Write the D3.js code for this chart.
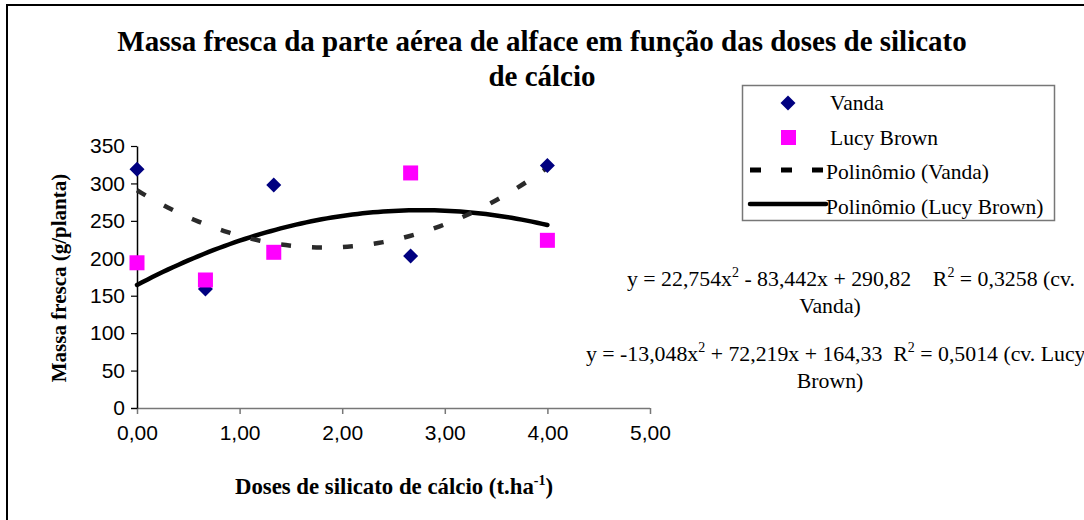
<!DOCTYPE html>
<html><head><meta charset="utf-8">
<script src="https://cdn.jsdelivr.net/npm/d3@7"></script>
<style>body{margin:0;background:#fff;}svg{display:block;} text{white-space:pre;}</style>
</head><body>
<svg id="c" width="1084" height="520"></svg>
<script>
const doses = [0, 0.667, 1.333, 2.667, 4];
const vanda = [319, 159, 298, 203, 324];
const lucy = [194, 171, 208, 314, 224];
const coefVanda = [22.754, -83.442, 290.82];
const coefLucy = [-13.048, 72.219, 164.33];
const xTicks = [0, 1, 2, 3, 4, 5];
const yTicks = [0, 50, 100, 150, 200, 250, 300, 350];

const svg = d3.select("#c");
const x = d3.scaleLinear().domain([0, 5]).range([137, 650]);
const y = d3.scaleLinear().domain([0, 350]).range([408, 146]);
const serif = "'Liberation Serif','Times New Roman',serif";
const sans = "'Liberation Sans',Arial,sans-serif";

svg.append("rect").attr("x", 7).attr("y", 5).attr("width", 1100).attr("height", 540)
  .attr("fill", "none").attr("stroke", "#000").attr("stroke-width", 2);

// title
const t = svg.append("text").attr("text-anchor", "middle").attr("font-family", serif)
  .attr("font-weight", "bold").attr("font-size", 29).attr("fill", "#000");
t.append("tspan").attr("x", 542).attr("y", 51).text("Massa fresca da parte aérea de alface em função das doses de silicato");
t.append("tspan").attr("x", 542).attr("y", 86).text("de cálcio");

// axes
const xa = svg.append("g").attr("transform", "translate(0,408)")
  .call(d3.axisBottom(x).tickValues(xTicks).tickSize(6).tickSizeOuter(0).tickFormat(d => d3.format(".2f")(d).replace(".", ",")));
xa.select(".domain").attr("stroke", "#777").attr("stroke-width", 1.5).attr("d", "M131,0.5H650");
xa.selectAll(".tick line").attr("stroke", "#777").attr("stroke-width", 1.5);
xa.selectAll(".tick text").attr("font-family", sans).attr("font-size", 21).attr("fill", "#000").attr("dy", "1.1em");

const ya = svg.append("g").attr("transform", "translate(137,0)")
  .call(d3.axisLeft(y).tickValues(yTicks).tickSize(6).tickSizeOuter(0));
ya.select(".domain").attr("stroke", "#000").attr("stroke-width", 1.5);
ya.selectAll(".tick line").attr("stroke", "#000").attr("stroke-width", 1.2);
ya.selectAll(".tick text").attr("font-family", sans).attr("font-size", 21).attr("fill", "#000").attr("x", -12);

// axis titles
svg.append("text").attr("transform", "translate(66,278) rotate(-90)").attr("text-anchor", "middle")
  .attr("font-family", serif).attr("font-weight", "bold").attr("font-size", 21).text("Massa fresca (g/planta)");
const xl = svg.append("text").attr("x", 394).attr("y", 494).attr("text-anchor", "middle")
  .attr("font-family", serif).attr("font-weight", "bold").attr("font-size", 22.8);
xl.append("tspan").text("Doses de silicato de cálcio (t.ha");
xl.append("tspan").attr("dy", -9).attr("font-size", 14).text("-1");
xl.append("tspan").attr("dy", 9).text(")");

// trend lines
const poly = (c, v) => c[0] * v * v + c[1] * v + c[2];
const xs = d3.range(0, 4.001, 0.05);
const line = d3.line().x(d => x(d[0])).y(d => y(d[1]));
svg.append("path").datum(xs.map(v => [v, poly(coefLucy, v)])).attr("d", line)
  .attr("fill", "none").attr("stroke", "#000").attr("stroke-width", 4.5).attr("stroke-linecap", "round");
svg.append("path").datum(xs.map(v => [v, poly(coefVanda, v)])).attr("d", line)
  .attr("fill", "none").attr("stroke", "#2a2a2a").attr("stroke-width", 4.5).attr("stroke-dasharray", "10,21");

// markers
const diamond = s => `M0,${-s}L${s},0L0,${s}L${-s},0Z`;
svg.selectAll(".v").data(doses.map((d, i) => [d, vanda[i]])).enter().append("path")
  .attr("transform", d => `translate(${x(d[0])},${y(d[1])})`).attr("d", diamond(7.5)).attr("fill", "#000080");
svg.selectAll(".l").data(doses.map((d, i) => [d, lucy[i]])).enter().append("rect")
  .attr("x", d => x(d[0]) - 7.5).attr("y", d => y(d[1]) - 7.5).attr("width", 15).attr("height", 15).attr("fill", "#FF00FF");

// legend
const lg = svg.append("g");
lg.append("rect").attr("x", 742.5).attr("y", 85.5).attr("width", 312).attr("height", 135)
  .attr("fill", "#fff").attr("stroke", "#777").attr("stroke-width", 1.5);
lg.append("path").attr("transform", "translate(788,103)").attr("d", diamond(7.5)).attr("fill", "#000080");
lg.append("rect").attr("x", 781).attr("y", 130).attr("width", 15).attr("height", 15).attr("fill", "#FF00FF");
lg.append("line").attr("x1", 750).attr("x2", 824).attr("y1", 170).attr("y2", 170)
  .attr("stroke", "#000").attr("stroke-width", 5).attr("stroke-dasharray", "11,20");
lg.append("line").attr("x1", 750).attr("x2", 826).attr("y1", 204).attr("y2", 204)
  .attr("stroke", "#000").attr("stroke-width", 4.5).attr("stroke-linecap", "round");
const labels = ["Vanda", "Lucy Brown", "Polinômio (Vanda)", "Polinômio (Lucy Brown)"];
lg.selectAll(".lt").data(labels).enter().append("text")
  .attr("x", (d, i) => i < 2 ? 830 : 826).attr("y", (d, i) => 110 + i * 34.5)
  .attr("font-family", serif).attr("font-size", 21.5).attr("fill", "#000").text(d => d);

// equations
function eq(xPos, yPos, parts, line2, cx2) {
  const tx = svg.append("text").attr("x", xPos).attr("y", yPos).attr("font-family", serif).attr("font-size", 21.8).attr("fill", "#000");
  parts.forEach(p => {
    const s = tx.append("tspan").text(p[0]);
    if (p[1]) s.attr("dy", p[1]).attr("font-size", 14);
    if (p[2]) s.attr("dy", p[2]);
  });
  svg.append("text").attr("x", cx2).attr("y", yPos + 27).attr("text-anchor", "middle")
    .attr("font-family", serif).attr("font-size", 21.8).text(line2);
}
eq(627, 286, [["y = 22,754x"], ["2", -9], [" - 83,442x + 290,82    R", null, 9], ["2", -9], [" = 0,3258 (cv.", null, 9]], "Vanda)", 830);
eq(586, 361, [["y = -13,048x"], ["2", -9], [" + 72,219x + 164,33  R", null, 9], ["2", -9], [" = 0,5014 (cv. Lucy", null, 9]], "Brown)", 830);
</script>
</body></html>
